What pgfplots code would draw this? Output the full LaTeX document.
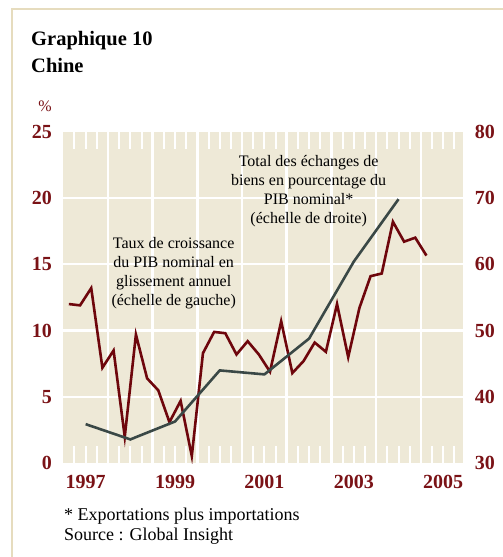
\documentclass[border=0pt]{standalone}
\usepackage{pgfplots}
\pgfplotsset{compat=1.18}
\usepackage{fontspec}
\setmainfont{Liberation Serif}
\definecolor{beige}{RGB}{238,233,215}
\definecolor{maroon}{RGB}{110,6,12}
\definecolor{lblred}{RGB}{122,18,22}
\definecolor{slate}{RGB}{58,72,70}
\definecolor{framec}{RGB}{230,220,190}
\begin{document}
\begin{tikzpicture}[x=1pt,y=1pt]
\useasboundingbox (0,0) rectangle (503,-557);
\draw[framec, line width=2pt] (12,-557) -- (12,-9) -- (503,-9);
\node[anchor=base west, inner sep=0pt, font=\fontsize{20.5}{24}\selectfont\bfseries] at (31,-45) {Graphique 10};
\node[anchor=base west, inner sep=0pt, font=\fontsize{20.5}{24}\selectfont\bfseries] at (31,-72) {Chine};
\node[lblred, inner sep=0pt, font=\fontsize{16}{19}\selectfont] at (45,-106) {\%};
\node[anchor=base west, inner sep=0pt, font=\fontsize{18}{21}\selectfont] at (64,-520) {* Exportations plus importations};
\node[anchor=base west, inner sep=0pt, font=\fontsize{18}{21}\selectfont] at (64,-540) {Source : Global Insight};

\begin{axis}[
  at={(63.3pt,-463.3pt)}, anchor=south west,
  width=400pt, height=331.8pt, scale only axis,
  xmin=1997, xmax=2005.95, ymin=0, ymax=25,
  axis background/.style={fill=beige},
  axis line style={draw=none},
  xtick={1998,...,2005}, xticklabels={},
  minor xtick={1997.25,1997.5,1997.75,1998.25,1998.5,1998.75,1999.25,1999.5,1999.75,2000.25,2000.5,2000.75,2001.25,2001.5,2001.75,2002.25,2002.5,2002.75,2003.25,2003.5,2003.75,2004.25,2004.5,2004.75,2005.25,2005.5,2005.75},
  ytick={5,10,15,20},
  extra y ticks={0,25},
  extra y tick style={grid=none},
  grid=major,
  major grid style={white, line width=2.5pt},
  tick align=inside,
  major tick length=0pt,
  minor tick length=17pt,
  minor tick style={white, line width=2pt},
  ytick pos=left,
  ticklabel style={lblred, font=\fontsize{20}{24}\selectfont\bfseries},
  /pgf/number format/assume math mode=true,
  /pgf/number format/1000 sep={},
  yticklabel style={xshift=-8pt},
  extra x ticks={1997.5,1999.5,2001.5,2003.5,2005.5},
  extra x tick labels={1997,1999,2001,2003,2005},
  extra x tick style={grid=none, major tick length=0pt},
  xticklabel style={yshift=-8pt},
  xtick pos=both,
  xticklabel pos=bottom,
]
\addplot[maroon, line width=2.6pt] coordinates {
(1997.125,12.0) (1997.375,11.9) (1997.625,13.2) (1997.875,7.2)
(1998.125,8.5) (1998.375,2.0) (1998.625,9.7) (1998.875,6.4)
(1999.125,5.5) (1999.375,3.1) (1999.625,4.7) (1999.875,0.55)
(2000.125,8.3) (2000.375,9.9) (2000.625,9.8) (2000.875,8.2)
(2001.125,9.2) (2001.375,8.2) (2001.625,6.9) (2001.875,10.7)
(2002.125,6.8) (2002.375,7.7) (2002.625,9.1) (2002.875,8.4)
(2003.125,12.0) (2003.375,8.0) (2003.625,11.7) (2003.875,14.1)
(2004.125,14.3) (2004.375,18.2) (2004.625,16.7) (2004.875,17.0)
(2005.125,15.65)
};
\node[align=center, font=\fontsize{16}{19}\selectfont] at (axis cs:1999.47,14.34) {Taux de croissance\\du PIB nominal en\\glissement annuel\\(échelle de gauche)};
\node[align=center, font=\fontsize{16}{19}\selectfont] at (axis cs:2002.49,20.47) {Total des échanges de\\biens en pourcentage du\\PIB nominal*\\(échelle de droite)};
\end{axis}

\begin{axis}[
  at={(63.3pt,-463.3pt)}, anchor=south west,
  width=400pt, height=331.8pt, scale only axis,
  xmin=1997, xmax=2005.95, ymin=30, ymax=80,
  hide x axis,
  axis y line*=right,
  axis line style={draw=none},
  ytick={30,40,50,60,70,80},
  major tick length=0pt,
  ticklabel style={lblred, font=\fontsize{20}{24}\selectfont\bfseries},
  /pgf/number format/assume math mode=true,
  yticklabel style={xshift=8pt},
]
\addplot[slate, line width=2.6pt] coordinates {
(1997.5,35.9) (1998.5,33.6) (1999.5,36.3) (2000.5,44.0)
(2001.5,43.4) (2002.5,48.8) (2003.5,60.4) (2004.5,69.8)
};
\end{axis}
\end{tikzpicture}
\end{document}
